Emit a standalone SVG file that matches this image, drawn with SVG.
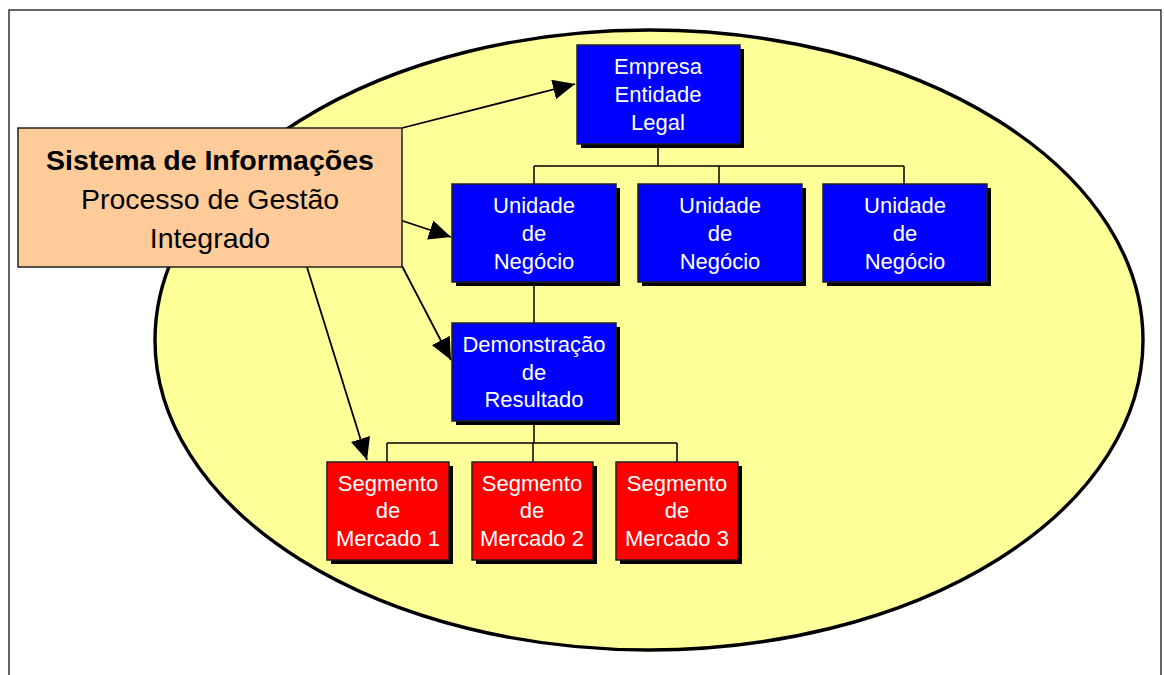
<svg xmlns="http://www.w3.org/2000/svg" width="1164" height="675" viewBox="0 0 1164 675">
  <defs>
    <marker id="arrow" viewBox="0 0 22 20" refX="22" refY="10" markerWidth="22" markerHeight="20" markerUnits="userSpaceOnUse" orient="auto">
      <path d="M0,0 L22,10 L0,20 Z" fill="#000"/>
    </marker>
    <style>
      .shadow { fill: #000; }
      .blue { fill: #0000FF; stroke: #222; stroke-width: 1.5; }
      .red { fill: #FF0000; stroke: #222; stroke-width: 1.5; }
      .wt { font-family: "Liberation Sans", Arial, sans-serif; font-size: 22px; fill: #fff; text-anchor: middle; }
      .bt { font-family: "Liberation Sans", Arial, sans-serif; font-size: 28.5px; fill: #000; text-anchor: middle; }
      .tree { fill: none; stroke: #000; stroke-width: 1.5; }
      .arr { fill: none; stroke: #000; stroke-width: 1.8; marker-end: url(#arrow); }
    </style>
  </defs>

  <rect x="0" y="0" width="1164" height="675" fill="#fff"/>
  <!-- outer frame -->
  <rect x="9" y="10" width="1152" height="680" fill="none" stroke="#000" stroke-width="1.2"/>

  <!-- background ellipse -->
  <ellipse cx="649" cy="340" rx="494" ry="310" fill="#FFFF99" stroke="#000" stroke-width="3.4"/>

  <!-- tree lines and arrows -->
  <g id="connectors">
    <path class="tree" d="M658,144 V166 M534,166 H904 M534,166 V184 M719,166 V184 M904,166 V184"/>
    <path class="tree" d="M534,282 V323"/>
    <path class="tree" d="M534,421 V443 M387,443 H677 M387,443 V462 M533,443 V462 M677,443 V462"/>
    <line class="arr" x1="402" y1="128" x2="575" y2="84"/>
    <line class="arr" x1="400" y1="220" x2="451" y2="237"/>
    <line class="arr" x1="402" y1="266" x2="451" y2="360"/>
    <line class="arr" x1="306" y1="264" x2="367" y2="460"/>
  </g>

  <g id="empresa">
    <rect class="shadow" x="581" y="49" width="163" height="99"/>
    <rect class="blue" x="577" y="45" width="163" height="99"/>
    <text class="wt" x="658" y="74">Empresa</text>
    <text class="wt" x="658" y="102">Entidade</text>
    <text class="wt" x="658" y="130">Legal</text>
  </g>

  <g id="unidade1">
    <rect class="shadow" x="456" y="188" width="164" height="98"/>
    <rect class="blue" x="452" y="184" width="164" height="98"/>
    <text class="wt" x="534" y="213">Unidade</text>
    <text class="wt" x="534" y="241">de</text>
    <text class="wt" x="534" y="269">Negócio</text>
  </g>

  <g id="unidade2">
    <rect class="shadow" x="642" y="188" width="164" height="98"/>
    <rect class="blue" x="638" y="184" width="164" height="98"/>
    <text class="wt" x="720" y="213">Unidade</text>
    <text class="wt" x="720" y="241">de</text>
    <text class="wt" x="720" y="269">Negócio</text>
  </g>

  <g id="unidade3">
    <rect class="shadow" x="827" y="188" width="164" height="98"/>
    <rect class="blue" x="823" y="184" width="164" height="98"/>
    <text class="wt" x="905" y="213">Unidade</text>
    <text class="wt" x="905" y="241">de</text>
    <text class="wt" x="905" y="269">Negócio</text>
  </g>

  <g id="demonstracao">
    <rect class="shadow" x="456" y="327" width="164" height="98"/>
    <rect class="blue" x="452" y="323" width="164" height="98"/>
    <text class="wt" x="534" y="352">Demonstração</text>
    <text class="wt" x="534" y="380">de</text>
    <text class="wt" x="534" y="407">Resultado</text>
  </g>

  <g id="segmento1">
    <rect class="shadow" x="331" y="466" width="122" height="98"/>
    <rect class="red" x="327" y="462" width="122" height="98"/>
    <text class="wt" x="388" y="491">Segmento</text>
    <text class="wt" x="388" y="518">de</text>
    <text class="wt" x="388" y="546">Mercado 1</text>
  </g>

  <g id="segmento2">
    <rect class="shadow" x="476" y="466" width="121" height="98"/>
    <rect class="red" x="472" y="462" width="121" height="98"/>
    <text class="wt" x="532" y="491">Segmento</text>
    <text class="wt" x="532" y="518">de</text>
    <text class="wt" x="532" y="546">Mercado 2</text>
  </g>

  <g id="segmento3">
    <rect class="shadow" x="620" y="466" width="122" height="98"/>
    <rect class="red" x="616" y="462" width="122" height="98"/>
    <text class="wt" x="677" y="491">Segmento</text>
    <text class="wt" x="677" y="518">de</text>
    <text class="wt" x="677" y="546">Mercado 3</text>
  </g>

  <g id="sistema">
    <rect x="18" y="128" width="384" height="139" fill="#FFCC99" stroke="#222" stroke-width="1.5"/>
    <text class="bt" x="210" y="170" font-weight="bold">Sistema de Informações</text>
    <text class="bt" x="210" y="209">Processo de Gestão</text>
    <text class="bt" x="210" y="248">Integrado</text>
  </g>
</svg>
